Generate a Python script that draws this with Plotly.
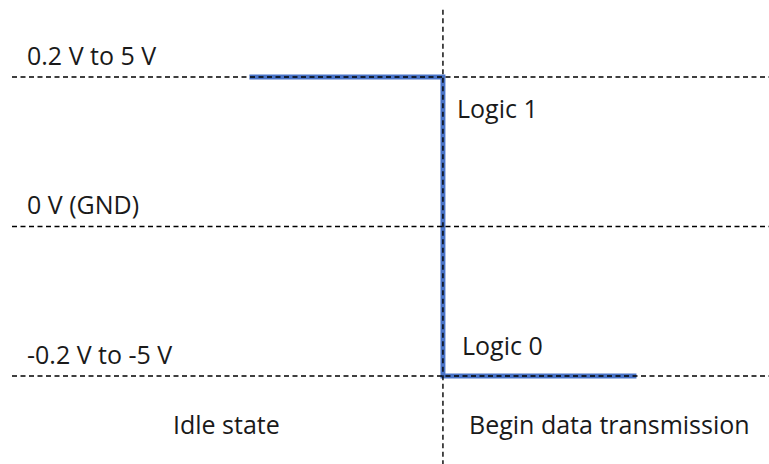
import plotly.graph_objects as go

# signal: time (arbitrary units) and voltage level (1 = high, 0 = GND, -1 = low)
signal_t = [-1, 0, 0, 1]
signal_v = [1, 1, -1, -1]

level_values = [1, 0, -1]
level_labels = ["0.2 V to 5 V", "0 V (GND)", "-0.2 V to -5 V"]

state_labels = ["Idle state", "Begin data transmission"]
state_t = [-1.12, 0.86]

logic_labels = ["Logic 1", "Logic 0"]
logic_t = [0.06, 0.09]
logic_v = [0.79, -0.79]

font = "Open Sans"
size = 25
blue = "#4a74c8"
dash = dict(color="black", width=1.4, dash="5px,3.5px")

fig = go.Figure()

fig.add_trace(go.Scatter(
    x=signal_t, y=signal_v, mode="lines",
    line=dict(color=blue, width=5),
    hoverinfo="skip", showlegend=False
))

# dashed reference lines drawn above the signal
for v in level_values:
    fig.add_shape(type="line", x0=-2.227, x1=1.7, y0=v, y1=v,
                  xref="x", yref="y", layer="above", line=dash)
fig.add_shape(type="line", x0=0, x1=0, y0=1.45, y1=-1.6,
              xref="x", yref="y", layer="above", line=dash)

for v, lab in zip(level_values, level_labels):
    fig.add_annotation(x=-2.16, y=v, text=lab, showarrow=False,
                       xanchor="left", yanchor="middle", yshift=22,
                       font=dict(family=font, size=size, color="#1a1a1a"))

for t, v, lab in zip(logic_t, logic_v, logic_labels):
    fig.add_annotation(x=t, y=v, text=lab, showarrow=False,
                       xanchor="left", yanchor="middle",
                       font=dict(family=font, size=size, color="#1a1a1a"))

for t, lab in zip(state_t, state_labels):
    fig.add_annotation(x=t, y=-1.32, text=lab, showarrow=False,
                       xanchor="center", yanchor="middle",
                       font=dict(family=font, size=size, color="#1a1a1a"))

fig.update_layout(
    width=769, height=464,
    margin=dict(l=0, r=0, t=0, b=0),
    paper_bgcolor="white", plot_bgcolor="white",
    xaxis=dict(range=[-2.289, 1.685], visible=False, fixedrange=True),
    yaxis=dict(range=[-1.589, 1.515], visible=False, fixedrange=True),
)

fig.write_html("out.html", config={"displayModeBar": False},
               post_script="document.body.style.margin='0';document.body.style.overflow='hidden';")
